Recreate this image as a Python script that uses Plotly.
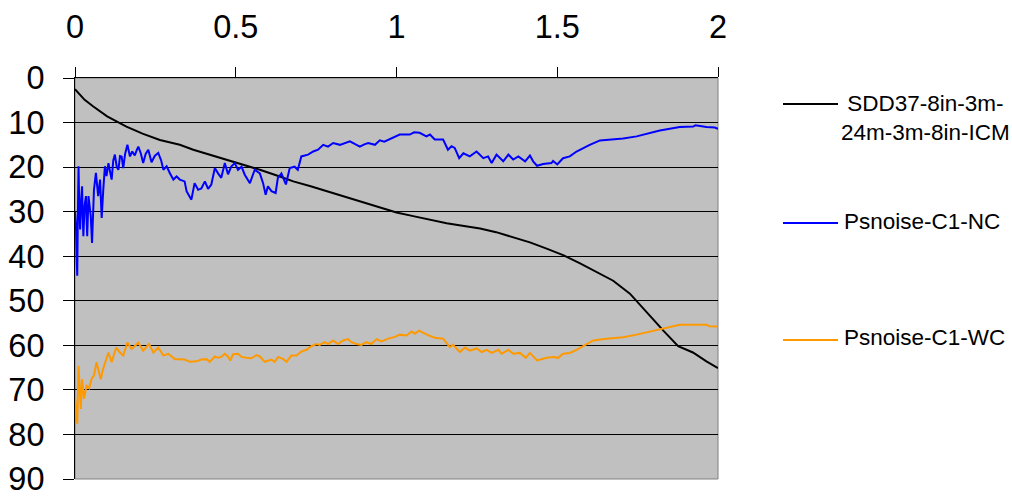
import plotly.graph_objects as go

# ---------------- data ----------------
sdd_x = [0, 0.01, 0.03, 0.057, 0.1, 0.16, 0.21, 0.264, 0.326, 0.368, 0.42, 0.472, 0.52, 0.575,
         0.637, 0.679, 0.733, 0.783, 0.83, 0.886, 0.94, 1.0, 1.052, 1.1, 1.156, 1.21, 1.26,
         1.31, 1.363, 1.415, 1.467, 1.52, 1.571, 1.62, 1.674, 1.726, 1.778, 1.83, 1.876,
         1.9, 1.922, 1.964, 2.0]
sdd_y = [2.5, 3.3, 4.9, 6.4, 8.6, 10.9, 12.5, 13.9, 15.0, 16.1, 17.2, 18.3, 19.4, 20.6,
         22.1, 23.2, 24.3, 25.4, 26.5, 27.7, 28.9, 30.2, 31.0, 31.8, 32.6, 33.2, 33.8,
         34.6, 35.7, 36.9, 38.3, 39.8, 41.6, 43.4, 45.5, 48.4, 52.6, 56.7, 60.2,
         60.9, 61.6, 63.6, 65.1]

nc_x = [0.0, 0.003, 0.005, 0.007, 0.009, 0.011, 0.013, 0.016, 0.019, 0.022, 0.024, 0.026,
        0.03, 0.034, 0.036, 0.038, 0.042, 0.046, 0.049, 0.053, 0.056, 0.059, 0.065, 0.069,
        0.072, 0.078, 0.083, 0.088, 0.093, 0.098, 0.104, 0.109, 0.114, 0.119, 0.124, 0.13,
        0.135, 0.14, 0.145, 0.15, 0.156, 0.163, 0.171, 0.178, 0.186, 0.192, 0.197, 0.205,
        0.212, 0.22, 0.228, 0.238, 0.248, 0.259, 0.268, 0.275, 0.285, 0.296, 0.306, 0.316,
        0.326, 0.341, 0.347, 0.362, 0.372, 0.383, 0.393, 0.404, 0.414, 0.424, 0.435, 0.445,
        0.455, 0.466, 0.476, 0.486, 0.497, 0.507, 0.518, 0.528, 0.544, 0.559, 0.575, 0.585,
        0.593, 0.6, 0.611, 0.624, 0.631, 0.642, 0.656, 0.668, 0.683, 0.693, 0.704, 0.725,
        0.741, 0.756, 0.772, 0.787, 0.803, 0.824, 0.839, 0.855, 0.87, 0.886, 0.9, 0.912,
        0.933, 0.948, 0.962, 0.974, 0.99, 1.01, 1.041, 1.055, 1.072, 1.093, 1.104, 1.119,
        1.145, 1.16, 1.171, 1.181, 1.195, 1.208, 1.228, 1.249, 1.27, 1.285, 1.296, 1.311,
        1.332, 1.348, 1.363, 1.379, 1.4, 1.415, 1.425, 1.437, 1.456, 1.482, 1.487, 1.5,
        1.518, 1.539, 1.56, 1.581, 1.601, 1.633, 1.674, 1.705, 1.747, 1.788, 1.819, 1.85,
        1.881, 1.923, 1.93, 1.964, 1.99, 2.0]
nc_y = [30.0, 33.3, 40.0, 44.4, 30.0, 19.8, 28.0, 34.0, 27.5, 24.3, 31.0, 35.5,
        28.5, 26.5, 31.5, 35.5, 26.5, 29.0, 31.0, 37.0, 30.0, 25.1, 21.3, 24.5,
        26.5, 22.8, 31.4, 25.0, 19.8, 22.0, 19.1, 21.0, 22.8, 18.5, 17.2, 20.0,
        20.6, 17.5, 17.6, 20.2, 17.0, 15.0, 17.6, 16.5, 17.4, 16.2, 15.4, 17.0,
        19.1, 17.0, 16.1, 18.9, 17.5, 16.8, 18.5, 20.6, 19.8, 21.5, 22.8, 22.1,
        22.8, 23.2, 25.4, 27.3, 23.6, 25.1, 24.8, 23.2, 24.9, 23.9, 20.2, 21.4,
        22.4, 19.1, 21.6, 19.9, 19.1, 20.6, 19.9, 21.7, 23.6, 20.6, 21.4, 23.6,
        26.2, 24.3, 25.4, 25.8, 22.4, 21.4, 23.9, 20.2, 19.9, 20.6, 17.6, 17.2,
        16.5, 16.1, 15.0, 15.4, 14.6, 15.0, 14.6, 14.2, 14.8, 15.4, 14.9, 14.6,
        15.0, 14.0, 14.3, 13.9, 13.4, 12.7, 12.7, 12.2, 12.3, 13.1, 12.7, 13.8,
        13.8, 16.1, 15.3, 15.7, 18.0, 16.9, 17.6, 16.5, 18.0, 17.6, 19.1, 17.2,
        18.7, 17.2, 18.3, 17.6, 18.7, 17.4, 18.7, 19.7, 19.3, 19.1, 18.6, 19.4,
        18.0, 17.6, 16.5, 15.7, 15.0, 14.0, 13.8, 13.6, 13.1, 12.3, 11.8, 11.4,
        11.0, 10.9, 10.6, 11.0, 11.1, 11.4]

wc_x = [0.0, 0.004, 0.007, 0.011, 0.015, 0.018, 0.022, 0.028, 0.036, 0.044, 0.052, 0.059,
        0.067, 0.074, 0.08, 0.087, 0.099, 0.104, 0.114, 0.128, 0.14, 0.15, 0.163, 0.176,
        0.197, 0.212, 0.23, 0.244, 0.259, 0.275, 0.29, 0.311, 0.326, 0.341, 0.357, 0.378,
        0.393, 0.409, 0.419, 0.435, 0.445, 0.455, 0.466, 0.476, 0.483, 0.492, 0.507, 0.518,
        0.533, 0.549, 0.564, 0.575, 0.59, 0.611, 0.621, 0.632, 0.648, 0.658, 0.673, 0.689,
        0.704, 0.72, 0.735, 0.751, 0.761, 0.777, 0.787, 0.803, 0.818, 0.834, 0.849, 0.86,
        0.875, 0.891, 0.906, 0.922, 0.938, 0.953, 0.974, 0.995, 1.01, 1.031, 1.047, 1.057,
        1.07, 1.083, 1.098, 1.119, 1.145, 1.166, 1.176, 1.197, 1.213, 1.228, 1.249, 1.265,
        1.28, 1.296, 1.317, 1.327, 1.348, 1.363, 1.384, 1.402, 1.415, 1.437, 1.467, 1.488,
        1.503, 1.518, 1.539, 1.56, 1.581, 1.612, 1.653, 1.705, 1.747, 1.788, 1.83, 1.881,
        1.964, 1.974, 2.0]
wc_y = [71.5, 75.0, 77.6, 64.6, 72.0, 74.3, 67.6, 72.0, 69.1, 69.6, 67.5, 66.8,
        63.8, 66.0, 67.6, 65.4, 62.3, 61.6, 63.8, 60.5, 61.6, 62.3, 59.4, 60.8,
        59.4, 61.2, 59.7, 61.6, 60.5, 62.3, 61.9, 63.1, 63.1, 63.2, 63.7, 63.6,
        63.2, 63.1, 63.7, 62.5, 62.8, 62.6, 61.9, 62.5, 63.4, 62.0, 61.9, 62.6,
        62.8, 62.9, 62.2, 62.5, 63.7, 63.2, 63.7, 62.6, 63.1, 63.7, 62.3, 62.3,
        61.4, 61.0, 60.2, 59.7, 59.9, 59.3, 59.7, 58.9, 59.7, 58.9, 58.6, 59.3,
        59.7, 59.9, 59.3, 59.7, 58.6, 59.1, 58.5, 58.1, 57.6, 57.8, 56.9, 57.4,
        56.7, 57.2, 57.7, 58.3, 58.5, 60.4, 59.9, 61.5, 60.5, 61.2, 60.7, 61.5,
        61.0, 61.7, 61.0, 61.9, 61.0, 61.9, 61.7, 62.8, 61.7, 63.4, 62.8, 62.6,
        62.8, 61.9, 61.7, 61.0, 60.1, 58.9, 58.5, 58.2, 57.6, 56.9, 56.1, 55.4,
        55.4, 55.7, 55.8]

series_names = ["SDD37-8in-3m-<br>24m-3m-8in-ICM", "Psnoise-C1-NC", "Psnoise-C1-WC"]
series_colors = ["#000000", "#0000FF", "#FF9900"]

x_ticks = [0, 0.5, 1, 1.5, 2]
x_tick_labels = ["0", "0.5", "1", "1.5", "2"]
y_ticks = [0, 10, 20, 30, 40, 50, 60, 70, 80, 90]
y_tick_labels = [str(v) for v in y_ticks]

# ---------------- figure ----------------
FONT = "Liberation Sans, Arial, sans-serif"
fig = go.Figure()
for xs, ys, name, col in [(sdd_x, sdd_y, series_names[0], series_colors[0]),
                          (nc_x, nc_y, series_names[1], series_colors[1]),
                          (wc_x, wc_y, series_names[2], series_colors[2])]:
    fig.add_trace(go.Scatter(x=xs, y=ys, mode="lines", name=name,
                             line=dict(color=col, width=2), showlegend=False))

W, H = 1012, 496
L, R, T, B = 75, 294, 78, 17
pw, ph = W - L - R, H - T - B

def px_x(p):
    return (p - L) / pw

def px_y(p):
    return (H - B - p) / ph

# manual legend (Excel-like)
leg_rows = [(104, 117.5, "center"), (223, 221, "left"), (340, 337, "left")]
shapes = [dict(type="rect", xref="paper", yref="paper", x0=0, x1=1, y0=0, y1=1,
               line=dict(color="#808080", width=1), layer="between")]
annotations = []
for (ly, ty, al), name, col in zip(leg_rows, series_names, series_colors):
    shapes.append(dict(type="line", xref="paper", yref="paper",
                       x0=px_x(783), x1=px_x(838), y0=px_y(ly), y1=px_y(ly),
                       line=dict(color=col, width=1.8)))
    if al == "center":
        annotations.append(dict(xref="paper", yref="paper", x=px_x(925.5), y=px_y(ty),
                                text=name, showarrow=False, xanchor="center", yanchor="middle",
                                align="center", font=dict(family=FONT, size=22.5, color="black")))
    else:
        annotations.append(dict(xref="paper", yref="paper", x=px_x(842), y=px_y(ty),
                                text=name, showarrow=False, xanchor="left", yanchor="middle",
                                align="left", font=dict(family=FONT, size=22.5, color="black")))

fig.update_layout(
    width=W, height=H,
    margin=dict(l=L, r=R, t=T, b=B, pad=0, autoexpand=False),
    paper_bgcolor="white",
    plot_bgcolor="#C0C0C0",
    font=dict(family=FONT, size=32.5, color="black"),
    shapes=shapes,
    annotations=annotations,
    xaxis=dict(side="top", range=[0, 2], tickvals=x_ticks, ticktext=x_tick_labels,
               showgrid=False, zeroline=False, showline=True, linecolor="black", linewidth=1,
               ticks="outside", ticklen=10, tickcolor="black", tickwidth=1, automargin=False,
               ticklabelstandoff=16, ticklabeloverflow="allow",
               tickfont=dict(family=FONT, size=32.5)),
    yaxis=dict(range=[90, 0], tickvals=y_ticks, ticktext=y_tick_labels,
               showgrid=True, gridcolor="black", gridwidth=1, zeroline=False,
               showline=True, linecolor="black", linewidth=1, automargin=False,
               ticks="outside", ticklen=11, tickcolor="black", tickwidth=1,
               ticklabelstandoff=12, ticklabeloverflow="allow",
               tickfont=dict(family=FONT, size=32.5)),
)

fig.write_html("out.html", config={"displayModeBar": False},
               post_script="document.body.style.margin='0';document.body.style.overflow='hidden';")
